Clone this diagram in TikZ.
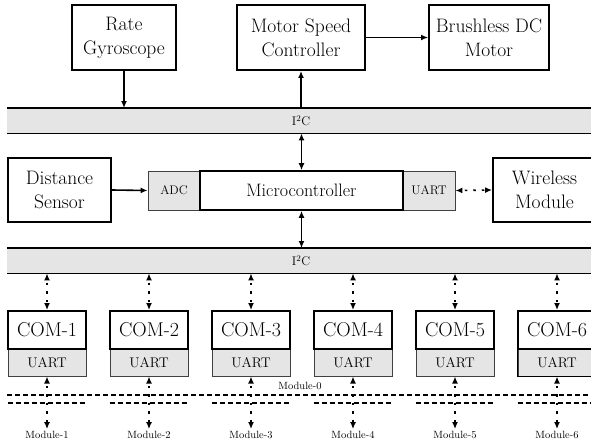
\documentclass[tikz,border=0pt]{standalone}
\usetikzlibrary{arrows.meta}
\definecolor{busgray}{RGB}{229,229,229}
\begin{document}
\begin{tikzpicture}[x=1pt,y=-1pt,
  blk/.style={draw, line width=1.9pt, fill=white, align=center, inner sep=0pt,
    font=\fontsize{19.5}{24}\selectfont},
  bus/.style={fill=busgray, inner sep=0pt, minimum width=593pt, minimum height=25pt, anchor=north west},
  busline/.style={line width=2pt},
  buslow/.style={line width=1.2pt},
  port/.style={draw=black!75, line width=0.9pt, fill=busgray, inner sep=0pt,
    minimum width=52pt, minimum height=39pt, font=\fontsize{12.5}{14}\selectfont},
  core/.style={draw, line width=1.6pt, fill=white, inner sep=0pt,
    minimum width=203pt, minimum height=39pt, font=\fontsize{18}{22}\selectfont},
  comtop/.style={draw, line width=1.9pt, fill=white, inner sep=0pt,
    minimum width=78pt, minimum height=38pt, font=\fontsize{20}{24}\selectfont},
  comuart/.style={draw=black!75, line width=1pt, fill=busgray, inner sep=0pt,
    minimum width=78pt, minimum height=27pt, font=\fontsize{14}{16}\selectfont},
  modlbl/.style={inner sep=2pt, font=\fontsize{10.5}{12}\selectfont},
  buslbl/.style={inner sep=0pt, font=\fontsize{12.5}{14}\selectfont},
  link/.style={line width=1.6pt, -{Latex[length=7pt,width=6pt]}},
  dlink/.style={line width=1.6pt, {Latex[length=7pt,width=6pt]}-{Latex[length=7pt,width=6pt]}},
  dashlink/.style={dlink, dash pattern=on 2.5pt off 6pt, dash phase=-3pt},
  modbus/.style={line width=1.8pt, dash pattern=on 5pt off 3pt}
]
\useasboundingbox (0,0) rectangle (591,444);

% top row
\node[blk, minimum width=104pt, minimum height=65pt] (gyro) at (124,37.5) {Rate\\Gyroscope};
\node[blk, minimum width=128pt, minimum height=65pt] (msc) at (301,37.5) {Motor Speed\\Controller};
\node[blk, minimum width=120pt, minimum height=65pt] (bdc) at (489,37.5) {Brushless DC\\Motor};

% upper I2C bus
\node[bus] (bus1) at (7,108) {};
\draw[busline] (bus1.north west) -- (bus1.north east);
\draw[buslow] (bus1.south west) -- (bus1.south east);
\node[buslbl] (bus1lbl) at (301,120.5) {I\textsuperscript{2}C};

% middle row
\node[blk, minimum width=103pt, minimum height=64pt] (ds) at (59.5,190) {Distance\\Sensor};
\node[port] (adc) at (174,190.5) {ADC};
\node[port] (uart) at (429,190.5) {UART};
\node[core] (mc) at (301.5,190.5) {Microcontroller};
\node[blk, minimum width=103pt, minimum height=64pt] (wm) at (544.5,190) {Wireless\\Module};

% lower I2C bus
\node[bus] (bus2) at (7,248) {};
\draw[busline] (bus2.north west) -- (bus2.north east);
\draw[buslow] (bus2.south west) -- (bus2.south east);
\node[buslbl] (bus2lbl) at (301,261) {I\textsuperscript{2}C};

% connectors
\draw[link] (gyro.south) -- (gyro.south |- bus1.north);
\draw[link] (msc.south |- bus1.north) -- (msc.south);
\draw[link] (msc.east) -- (bdc.west);
\draw[link] (ds.east) -- (adc.west);
\draw[dlink] (mc.north |- bus1.south) -- (mc.north);
\draw[dlink] (mc.south) -- (mc.south |- bus2.north);
\draw[dashlink] (uart.east) -- (wm.west);

% module bus lines
\coordinate (hibus) at (7,395);
\coordinate (hibusend) at (600,395);
\coordinate (lowbus) at (0,403);
\draw[modbus] (hibus) -- (hibusend);
\node[modlbl] (m0) at (300,386) {Module-0};

% communication modules
\foreach \k in {1,...,6} {
  \pgfmathsetmacro\cx{47+102*(\k-1)}
  \node[comuart] (cu\k) at (\cx,362.5) {UART};
  \node[comtop] (com\k) at (\cx,330) {COM-\k};
  \node[modlbl] (m\k) at (\cx,435) {Module-\k};
  \draw[modbus] (cu\k.south west |- lowbus) -- (cu\k.south east |- lowbus);
  \draw[dashlink] (com\k.north |- bus2.south) -- (com\k.north);
  \draw[dashlink] (cu\k.south) -- (m\k.north);
}
\draw[line width=1.9pt] (cu6.north west) rectangle (cu6.south east);
\end{tikzpicture}
\end{document}
